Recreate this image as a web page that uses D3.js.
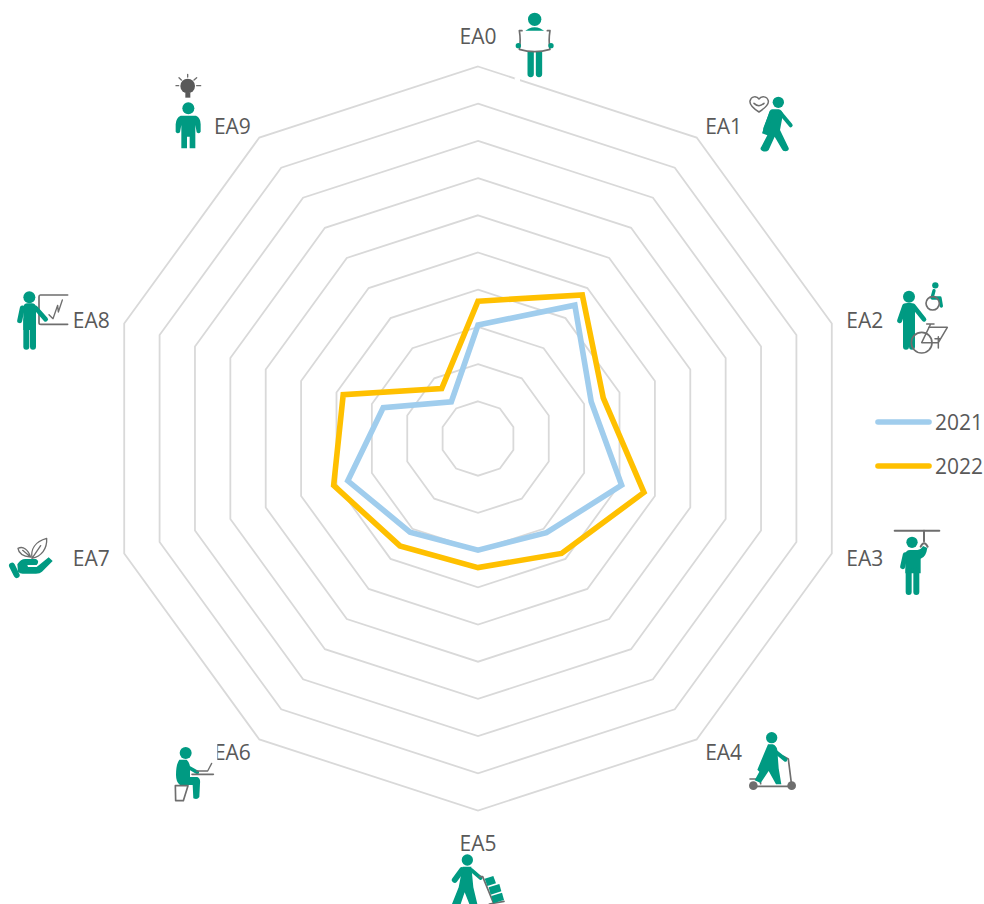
<!DOCTYPE html>
<html><head><meta charset="utf-8">
<script src="https://cdn.jsdelivr.net/npm/d3@7/dist/d3.min.js"></script>
<style>html,body{margin:0;padding:0;background:#fff;overflow:hidden}svg{display:block}text{font-family:"Open Sans",sans-serif;font-size:21px;fill:#595959}</style>
</head><body><svg id="c" width="984" height="904"></svg>
<script>
const categories = ["EA0","EA1","EA2","EA3","EA4","EA5","EA6","EA7","EA8","EA9"];
const values2021 = [3.05,4.43,3.2,4.06,3.13,3.0,3.11,3.68,2.68,1.22];
const values2022 = [3.69,4.77,3.54,4.69,3.82,3.47,3.57,4.08,3.81,1.66];
const ringLevels = [1,2,3,4,5,6,7,8,9,10];
const seriesNames = ["2021","2022"];
const seriesColors = ["#A0CDED","#FFC000"];

const TEAL="#009A82", GRAY="#6E6E6E", DARK="#595959";
const cx=478, cy=438.5;
const svg=d3.select("#c");
const r=d3.scaleLinear().domain([0,10]).range([0,372]);
const angle=d3.scalePoint().domain(categories).range([0,Math.PI*2*0.9]);
const root=svg.append("g").attr("transform",`translate(${cx},${cy})`);
const radial=d3.lineRadial().angle((d,i)=>angle(categories[i])).radius(d=>r(d)).curve(d3.curveLinearClosed);

root.selectAll(".ring").data(ringLevels).join("path").attr("class","ring")
  .attr("d",l=>radial(categories.map(()=>l)))
  .attr("fill","none").attr("stroke","#D9D9D9").attr("stroke-width",1.8);

[values2021,values2022].forEach((v,i)=>{
  root.append("path").attr("d",radial(v)).attr("fill","none")
    .attr("stroke",seriesColors[i]).attr("stroke-width",5.6).attr("stroke-linejoin","miter");
});

const labelOffsets=[[0,-31],[27,-12],[33,-4],[33,5],[27,13],[0,32],[-27,13],[-33,5],[-33,-4],[-27,-12]];
root.selectAll(".lab").data(categories).join("text").attr("class","lab")
  .attr("text-anchor","middle").attr("dominant-baseline","central")
  .attr("x",(d,i)=>r(10)*Math.sin(angle(d))+labelOffsets[i][0])
  .attr("y",(d,i)=>-r(10)*Math.cos(angle(d))+labelOffsets[i][1])
  .text(d=>d);

const legend=svg.append("g");
seriesNames.forEach((n,i)=>{
  const y=422+i*44;
  legend.append("line").attr("x1",878).attr("x2",929).attr("y1",y).attr("y2",y)
    .attr("stroke",seriesColors[i]).attr("stroke-width",5.6).attr("stroke-linecap","round");
  legend.append("text").attr("x",935).attr("y",y).attr("dominant-baseline","central").text(n);
});

// pictograms, drawn in 3x local units
function icon(x,y,draw){
  const g=svg.append("g").attr("transform",`translate(${x},${y}) scale(${1/3})`);
  const api={
    c:(a,b,rad,f=TEAL)=>g.append("circle").attr("cx",a).attr("cy",b).attr("r",rad).attr("fill",f),
    o:(a,b,rad,s=GRAY,w=5)=>g.append("circle").attr("cx",a).attr("cy",b).attr("r",rad).attr("fill","none").attr("stroke",s).attr("stroke-width",w),
    f:(d,col=TEAL)=>g.append("path").attr("d",d).attr("fill",col),
    s:(d,col=TEAL,w=14)=>g.append("path").attr("d",d).attr("fill","none").attr("stroke",col).attr("stroke-width",w).attr("stroke-linecap","round").attr("stroke-linejoin","round")
  };
  draw(api);
}
// EA0
icon(440,0,({c,f,s})=>{
  f("M224,232H240V246H224Z","#fff");
  c(284,58,20);
  f("M250,98Q284,66 318,98Z");
  s("M272,150V222",TEAL,19); s("M297,150V222",TEAL,19);
  f("M238,92H330Q325,122 332,150Q284,160 238,150Q243,122 238,92Z","#fff");
  s("M238,92H246M322,92H330M238,92Q243,122 238,148Q284,162 330,148Q325,122 330,92",GRAY,5);
  c(235,137,8); c(333,137,8);
});
// EA1
icon(690,80,({c,f,s})=>{
  s("M207,96C190,85 178,75 180,63C183,48 200,47 207,57C214,47 232,48 235,63C237,75 224,85 207,96Z",GRAY,4.5);
  s("M192,70Q207,84 222,70",GRAY,4.5);
  c(265,67,17);
  f("M246,88H266Q276,90 279,102L270,150L296,204Q298,212 286,214Q278,214 276,208L254,170L236,210Q228,218 216,212Q208,208 214,200L232,166L216,160L236,102Q238,90 246,88Z");
  s("M244,100L226,146",TEAL,13);
  s("M272,100L302,136",TEAL,12);
});
// EA2
icon(830,270,({c,f,s,o})=>{
  c(237,80,18);
  s("M228,112V230",TEAL,18); s("M246,112V230",TEAL,18);
  f("M219,110Q220,99 232,99H242Q254,99 255,110V175H219Z");
  s("M224,108L209,152",TEAL,15); s("M250,108L282,148",TEAL,14);
  c(316,46,9.5);
  s("M312,62L306,84H330L334,108",TEAL,10);
  o(308,100,20,GRAY,5);
  o(275,218,31,GRAY,5);
  s("M290,162H312M302,162L275,218H325L352,172H296M352,172L325,218M325,200V234M315,206H332",GRAY,4.5);
});
// EA3
icon(830,520,({c,s,f})=>{
  s("M194,32H328",GRAY,6);
  s("M282,32V64M272,80Q282,60 293,80",GRAY,6);
  c(246,67,17);
  f("M226,102Q228,90 240,90H262Q274,88 279,78L292,84Q288,112 272,116V160H226Z");
  s("M226,104L218,140",TEAL,15);
  s("M236,150V216",TEAL,18); s("M259,150V216",TEAL,18);
});
// EA4
icon(700,725,({c,f,s})=>{
  s("M278,184H160M275,182L265,102L250,94M150,162H170Q182,164 182,176",GRAY,5);
  c(160,182,13,GRAY); c(275,182,13,GRAY);
  c(215,38,17);
  f("M204,58H218Q230,62 232,76L236,130L244,178H228L206,138L182,174L164,166L178,140L172,134Z");
  s("M224,78L256,104",TEAL,12);
});
// EA5
icon(440,824,({c,f,s})=>{
  c(82,108,17);
  f("M68,128H94L100,190L112,240H88L74,205L62,240H36L56,190Z");
  s("M66,138L44,168",TEAL,17); s("M94,138L122,162",TEAL,11);
  s("M118,158H128L160,236M148,240L192,232",GRAY,5);
  f("M134,164L160,156L168,178L142,186Z");
  f("M146,190L178,180L184,202L152,212Z");
  f("M154,216L186,206L192,228L160,238Z");
});
// EA6 (its pictogram has a white backing that clips the label)
icon(160,735,({c,f,s})=>{
  f("M120,15H172V100H120Z","#fff");
  c(77,54,18);
  f("M58,74H80Q92,84 90,108L90,126H112Q122,130 120,145L118,186Q112,196 100,190L98,150H60Q48,142 48,120Q48,88 58,74Z");
  s("M84,96L112,112",TEAL,11);
  s("M96,118H160",GRAY,5);
  s("M110,108H143L155,85",GRAY,4);
  s("M46,152H84L70,197H47Z",GRAY,5);
});
// EA7
icon(0,525,({f,s})=>{
  s("M96,100C92,74 104,50 140,40C142,72 124,94 96,100ZM96,100L122,62",GRAY,4);
  s("M92,96C84,74 70,62 54,70C56,86 72,94 92,96ZM92,96L68,76",GRAY,4);
  s("M36,122L50,150",TEAL,18);
  f("M52,118Q62,102 76,102H108Q120,108 110,120H82L84,126H110L146,97L158,108L126,140Q120,146 108,146H68Q60,146 54,140Z");
});
// EA8
icon(5,280,({c,f,s})=>{
  s("M188,45H106Q102,45 102,50V128Q102,133 108,133H188",GRAY,5);
  s("M132,104L144,116L158,76L160,96L172,60",GRAY,4);
  c(73,52,18);
  s("M64,120V200",TEAL,18); s("M84,120V200",TEAL,18);
  f("M55,82Q56,70 68,70H80Q92,70 93,82V150H55Z");
  s("M52,84L44,122",TEAL,15); s("M92,84L122,118",TEAL,14);
});
// EA9
icon(160,65,({c,f,s})=>{
  c(83,63,22,DARK);
  f("M76,84H91V98H76Z",DARK);
  s("M83,28V36M57,38L64,45M110,38L102,45M48,62H56M110,62H122",GRAY,4);
  c(85,130,18);
  f("M62,152H108Q122,158 122,178V200Q117,208 110,202L106,180V250H89V215H81V250H64V180L60,202Q52,208 47,200V178Q48,158 62,152Z");
});
</script></body></html>
